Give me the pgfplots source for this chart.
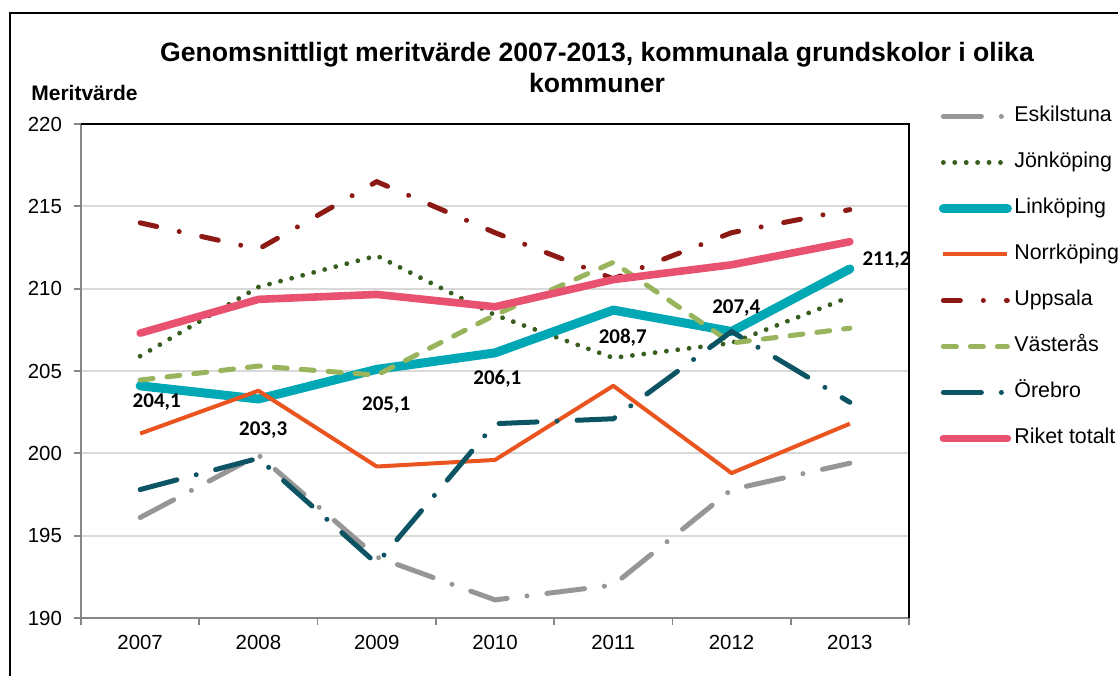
\documentclass[border=0pt]{standalone}
\usepackage{pgfplots}
\pgfplotsset{compat=1.18}
\usepackage{fontspec}
\setmainfont{Liberation Sans}
\newfontfamily\labfont{Carlito}
\definecolor{cEsk}{RGB}{150,150,150}
\definecolor{cJon}{RGB}{55,94,30}
\definecolor{cLin}{RGB}{0,168,182}
\definecolor{cNor}{RGB}{234,84,30}
\definecolor{cUpp}{RGB}{140,25,20}
\definecolor{cVas}{RGB}{152,180,92}
\definecolor{cOre}{RGB}{12,84,100}
\definecolor{cRik}{RGB}{232,82,112}
\definecolor{axgray}{RGB}{134,134,134}
\definecolor{gridgray}{RGB}{217,217,217}
\begin{document}
\begin{tikzpicture}
\useasboundingbox (0,0) rectangle (559pt,337.5pt);
\fill[white] (0,0) rectangle (559pt,337.5pt);
\draw[black,line width=0.8pt] (5pt,-3pt) -- (5pt,331pt) -- (565pt,331pt);
\node[font=\fontsize{13.3}{15.5}\selectfont\bfseries, align=center] at (298.5pt,304pt) {Genomsnittligt meritvärde 2007-2013, kommunala grundskolor i olika\\kommuner};
\node[font=\fontsize{10.5}{12}\selectfont\bfseries, anchor=west, inner sep=0pt] at (15.5pt,291pt) {Meritvärde};
\begin{axis}[
  at={(40.5pt,28.5pt)}, anchor=south west,
  scale only axis, width=414pt, height=247pt,
  xmin=-0.5, xmax=6.5, ymin=190, ymax=220,
  clip=false,
  axis x line*=bottom, axis y line*=left,
  axis line style={draw=axgray, line width=0.9pt},
  xtick={-0.5,0.5,...,6.5}, xticklabels={},
  extra x ticks={0,1,2,3,4,5,6},
  extra x tick labels={2007,2008,2009,2010,2011,2012,2013},
  extra x tick style={major tick length=0pt, xticklabel style={yshift=-5pt}},
  ytick={190,195,...,220},
  ymajorgrids, grid style={draw=gridgray, line width=0.9pt},
  tick align=outside, major tick length=3.5pt,
  tick style={draw=axgray, line width=0.9pt},
  tick label style={font=\fontsize{10.2}{12}\selectfont},
  /pgf/number format/assume math mode=true,
  yticklabel style={xshift=-2.5pt},
  legend style={draw=none, fill=none, at={(1.0356,1.0374)}, anchor=north west,
    inner xsep=0pt, inner ysep=0pt, row sep=12.5pt,
    font=\fontsize{10.7}{12}\selectfont,
    nodes={inner xsep=1.25pt, inner ysep=0pt, text height=8pt, text depth=2.5pt}},
  legend cell align=left,
  legend image code/.code={\draw[#1] (0pt,0pt) -- (32pt,0pt);},
]
\addplot[cEsk, line width=2.5pt, line cap=round, dash pattern=on 19pt off 10pt on 0.01pt off 10pt] coordinates {(0,196.1) (1,199.9) (2,193.7) (3,191.1) (4,192.0) (5,197.8) (6,199.4)};
\addlegendentry{Eskilstuna}
\addplot[cJon, line width=2.4pt, line cap=round, dash pattern=on 0.01pt off 5.7pt] coordinates {(0,205.9) (1,210.1) (2,212.0) (3,208.4) (4,205.8) (5,206.7) (6,209.5)};
\addlegendentry{Jönköping}
\addplot[cLin, line width=4.5pt, line cap=round, line join=round] coordinates {(0,204.1) (1,203.3) (2,205.1) (3,206.1) (4,208.7) (5,207.4) (6,211.2)};
\addlegendentry{Linköping}
\addplot[cNor, line width=2pt, line join=round] coordinates {(0,201.2) (1,203.8) (2,199.2) (3,199.6) (4,204.1) (5,198.8) (6,201.8)};
\addlegendentry{Norrköping}
\addplot[cUpp, line width=2.5pt, line cap=round, dash pattern=on 8.5pt off 11.5pt on 0.01pt off 11.5pt] coordinates {(0,214.0) (1,212.4) (2,216.5) (3,213.4) (4,210.6) (5,213.4) (6,214.8)};
\addlegendentry{Uppsala}
\addplot[cVas, line width=2.5pt, line cap=round, dash pattern=on 6.5pt off 7pt] coordinates {(0,204.45) (1,205.3) (2,204.75) (3,208.4) (4,211.6) (5,206.7) (6,207.6)};
\addlegendentry{Västerås}
\addplot[cOre, line width=2.5pt, line cap=round, dash pattern=on 19pt off 10pt on 0.01pt off 10pt] coordinates {(0,197.8) (1,199.7) (2,193.3) (3,201.8) (4,202.1) (5,207.4) (6,203.1)};
\addlegendentry{Örebro}
\addplot[cRik, line width=3.8pt, line cap=round, line join=round] coordinates {(0,207.3) (1,209.35) (2,209.65) (3,208.9) (4,210.55) (5,211.45) (6,212.85)};
\addlegendentry{Riket totalt}
\draw[black, line width=0.8pt] (rel axis cs:0,1) -- (rel axis cs:1,1) -- (rel axis cs:1,0);
\begin{scope}[every node/.style={font=\labfont\bfseries\fontsize{10.5}{12}\selectfont}]
\node at (axis cs:0.14,203.11) {204,1};
\node at (axis cs:1.04,201.41) {203,3};
\node at (axis cs:2.08,202.93) {205,1};
\node at (axis cs:3.02,204.51) {206,1};
\node at (axis cs:4.08,207.0) {208,7};
\node at (axis cs:5.04,208.82) {207,4};
\node at (axis cs:6.31,211.74) {211,2};
\end{scope}
\end{axis}
\end{tikzpicture}
\end{document}
